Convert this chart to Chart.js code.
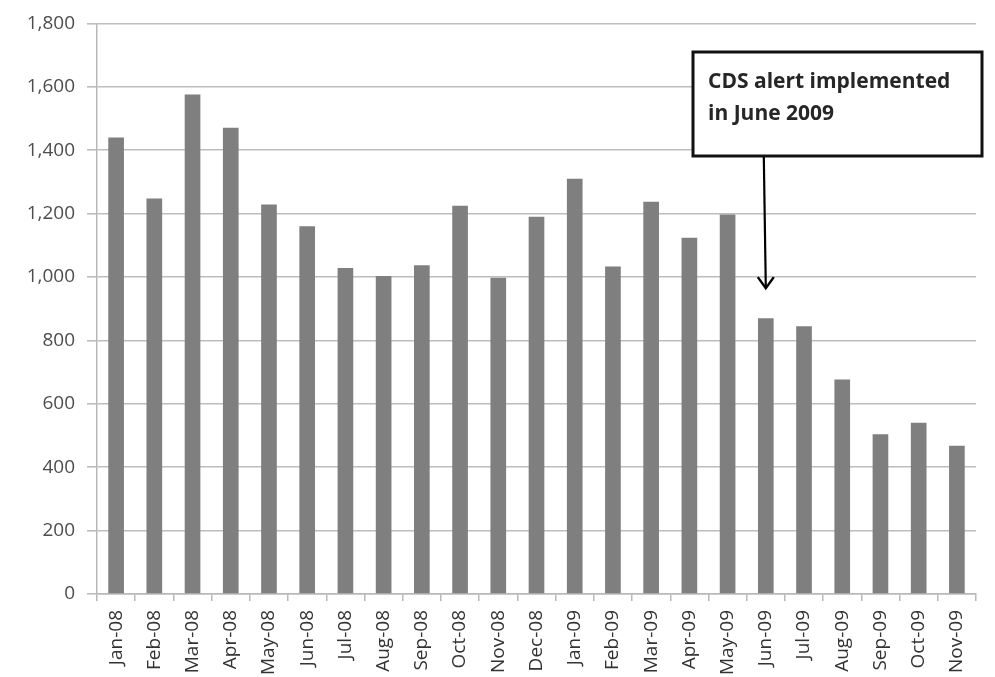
<!DOCTYPE html>
<html>
<head>
<meta charset="utf-8">
<script src="https://cdn.jsdelivr.net/npm/chart.js@4/dist/chart.umd.min.js"></script>
<style>
  html, body { margin: 0; padding: 0; background: #ffffff; }
  #wrap { width: 995px; height: 677px; }
</style>
</head>
<body>
<div id="wrap"><canvas id="chart" width="995" height="677"></canvas></div>
<script>
// Monthly counts, Jan 2008 – Nov 2009
const categories = [
  'Jan-08', 'Feb-08', 'Mar-08', 'Apr-08', 'May-08', 'Jun-08', 'Jul-08', 'Aug-08',
  'Sep-08', 'Oct-08', 'Nov-08', 'Dec-08', 'Jan-09', 'Feb-09', 'Mar-09', 'Apr-09',
  'May-09', 'Jun-09', 'Jul-09', 'Aug-09', 'Sep-09', 'Oct-09', 'Nov-09'
];
const monthlyCounts = [
  1440, 1248, 1576, 1471, 1229, 1160, 1028, 1003,
  1037, 1225, 998, 1190, 1310, 1033, 1237, 1124,
  1197, 870, 845, 677, 504, 540, 468
];
const yAxisMin = 0;
const yAxisMax = 1800;
const yAxisStep = 200;

// Callout text and the month / level its arrow points at
const calloutLines = ['CDS alert implemented', 'in June 2009'];
const calloutMonth = 'Jun-09';
const calloutArrowValue = 965;

const FONT = '"Open Sans", "DejaVu Sans", sans-serif';

const calloutPlugin = {
  id: 'callout',
  afterDatasetsDraw(chart) {
    const ctx = chart.ctx;
    const x = chart.scales.x;
    const y = chart.scales.y;
    const box = { left: 693, top: 52, width: 289, height: 104 };

    ctx.save();
    // box
    ctx.fillStyle = '#ffffff';
    ctx.fillRect(box.left, box.top, box.width, box.height);
    ctx.lineWidth = 3;
    ctx.strokeStyle = '#111111';
    ctx.strokeRect(box.left, box.top, box.width, box.height);

    // text
    ctx.fillStyle = '#262626';
    ctx.font = 'bold 21px ' + FONT;
    ctx.textAlign = 'left';
    ctx.textBaseline = 'alphabetic';
    calloutLines.forEach((line, i) => {
      ctx.fillText(line, box.left + 15, box.top + 36 + i * 32);
    });

    // arrow
    const ax = x.getPixelForValue(categories.indexOf(calloutMonth));
    const tipY = y.getPixelForValue(calloutArrowValue);
    ctx.strokeStyle = '#000000';
    ctx.lineWidth = 2.2;
    ctx.beginPath();
    ctx.moveTo(ax - 2, box.top + box.height + 1);
    ctx.lineTo(ax, tipY);
    ctx.stroke();
    ctx.lineWidth = 2.4;
    ctx.beginPath();
    ctx.moveTo(ax - 8, tipY - 11);
    ctx.lineTo(ax, tipY);
    ctx.lineTo(ax + 8, tipY - 11);
    ctx.stroke();
    ctx.restore();
  }
};

new Chart(document.getElementById('chart'), {
  type: 'bar',
  data: {
    labels: categories,
    datasets: [{
      data: monthlyCounts,
      backgroundColor: '#7f7f7f',
      borderWidth: 0,
      categoryPercentage: 1.0,
      barPercentage: 0.41
    }]
  },
  options: {
    responsive: false,
    animation: false,
    devicePixelRatio: 1,
    layout: { padding: { top: 17, right: 19, left: 0, bottom: 0 } },
    plugins: {
      legend: { display: false },
      tooltip: { enabled: false }
    },
    scales: {
      x: {
        afterFit(scale) { scale.height = 83; },
        grid: {
          display: true,
          drawOnChartArea: false,
          drawTicks: true,
          tickLength: 7,
          offset: true,
          color: '#b8b8b8',
          lineWidth: 1.5
        },
        border: { display: true, color: '#b8b8b8', width: 1.5 },
        ticks: {
          minRotation: 90,
          maxRotation: 90,
          autoSkip: false,
          padding: 9,
          color: '#333333',
          font: { family: FONT, size: 19 }
        }
      },
      y: {
        min: yAxisMin,
        max: yAxisMax,
        afterFit(scale) { scale.width = 97; },
        grid: {
          color: '#bdbdbd',
          lineWidth: 1.6,
          tickLength: 10
        },
        border: { display: true, color: '#b8b8b8', width: 1.5 },
        ticks: {
          stepSize: yAxisStep,
          padding: 12,
          color: '#4d4d4d',
          font: { family: FONT, size: 19 },
          callback: (v) => v.toLocaleString('en-US')
        }
      }
    }
  },
  plugins: [calloutPlugin]
});
</script>
</body>
</html>
